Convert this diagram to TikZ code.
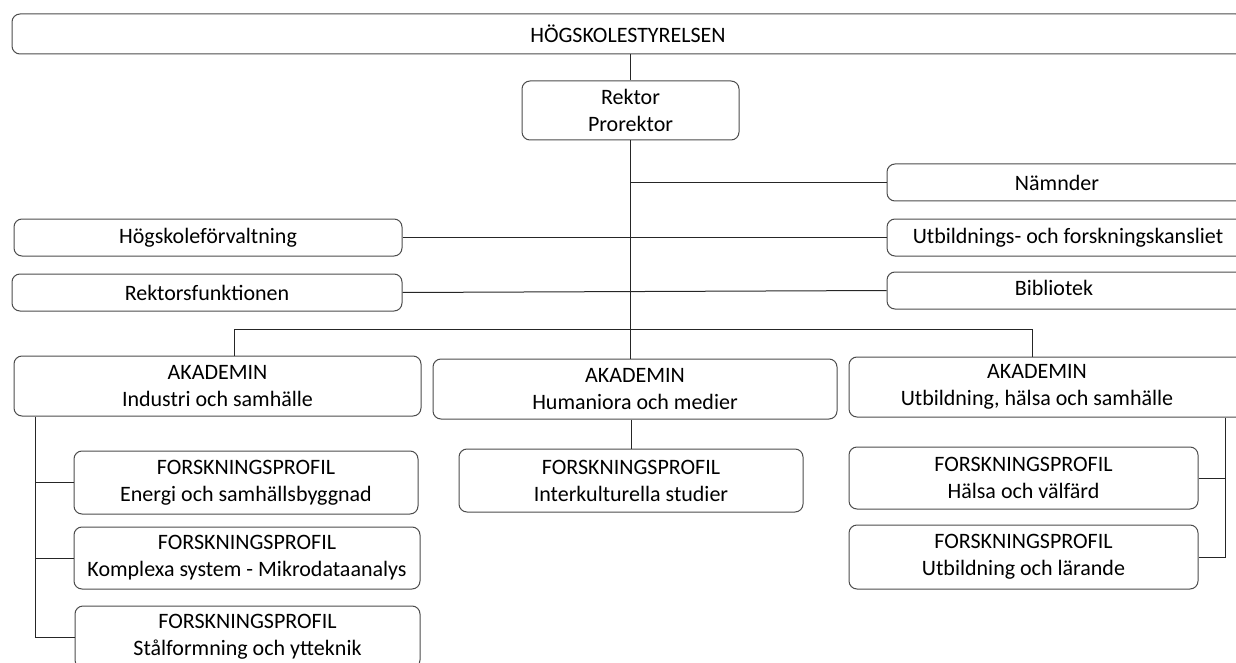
\documentclass[tikz,border=0pt]{standalone}
\usepackage{fontspec}
\setmainfont{Carlito}
\tikzset{
  box/.style={draw=black!70,line width=1pt,rounded corners=8pt,align=center,inner sep=0pt,font=\fontsize{22}{27}\selectfont},
  lbl/.style={align=center,inner sep=0pt,font=\fontsize{22}{27}\selectfont},
  link/.style={draw=black!85,line width=1pt}
}
\begin{document}
\begin{tikzpicture}[x=1pt,y=-1pt]
\useasboundingbox (0,0) rectangle (1236,663);
\clip (0,0) rectangle (1236,663);

\node[box,minimum width=1232pt,minimum height=40pt] (styrelsen) at (628,34) {HÖGSKOLESTYRELSEN};
\node[box,minimum width=217pt,minimum height=59pt] (rektor) at (630.5,110.5) {Rektor\\Prorektor};

\node[box,minimum width=373pt,minimum height=37pt,label={[lbl,xshift=-16.5pt]center:Nämnder}] (namnder) at (1073.5,182.5) {};
\node[box,minimum width=373pt,minimum height=37pt,label={[lbl,xshift=-5.5pt]center:Utbildnings- och forskningskansliet}] (kansli) at (1073.5,237.5) {};
\node[box,minimum width=373pt,minimum height=37pt,label={[lbl,xshift=-19.5pt,yshift=2.5pt]center:Bibliotek}] (bibliotek) at (1073.5,290.5) {};
\node[box,minimum width=388pt,minimum height=37pt] (forvaltning) at (208,237.5) {Högskoleförvaltning};
\node[box,minimum width=390pt,minimum height=37pt] (rfunktion) at (207,292.5) {Rektorsfunktionen};

\node[box,minimum width=407pt,minimum height=60pt] (akis) at (217.5,386) {AKADEMIN\\Industri och samhälle};
\node[box,minimum width=404pt,minimum height=60pt] (akhm) at (635,389) {AKADEMIN\\Humaniora och medier};
\node[box,minimum width=411pt,minimum height=60pt,label={[lbl,xshift=-17.5pt]center:{AKADEMIN\\Utbildning, hälsa och samhälle}}] (akuhs) at (1054.5,387) {};

\node[box,minimum width=344pt,minimum height=63pt] (fpenergi) at (246,482.5) {FORSKNINGSPROFIL\\Energi och samhällsbyggnad};
\node[box,minimum width=346pt,minimum height=62pt] (fpkomplex) at (247,558) {FORSKNINGSPROFIL\\Komplexa system - Mikrodataanalys};
\node[box,minimum width=345pt,minimum height=62pt] (fpstal) at (247.5,637) {FORSKNINGSPROFIL\\Stålformning och ytteknik};
\node[box,minimum width=344pt,minimum height=63pt] (fpinter) at (631,480.5) {FORSKNINGSPROFIL\\Interkulturella studier};
\node[box,minimum width=349pt,minimum height=62pt] (fphalsa) at (1023.5,478) {FORSKNINGSPROFIL\\Hälsa och välfärd};
\node[box,minimum width=349pt,minimum height=64pt] (fplarande) at (1023.5,557) {FORSKNINGSPROFIL\\Utbildning och lärande};

\coordinate (busL) at (234.5,329);
\coordinate (busR) at (1032,329);
\coordinate (isline) at (35.7,0);
\coordinate (uhsline) at (1225,0);

\draw[link] (styrelsen.south -| rektor.north) -- (rektor.north);
\draw[link] (rektor.south) -- (rektor.south |- akhm.north);
\draw[link] (rektor.south |- namnder.west) -- (namnder.west);
\draw[link] (forvaltning.east) -- (kansli.west);
\draw[link] (rfunktion.east) -- (bibliotek.west);
\draw[link] (busL |- akis.north) -- (busL) -- (busR) -- (busR |- akuhs.north);
\draw[link] (isline |- akis.south) |- (fpstal.west);
\foreach \n in {fpenergi,fpkomplex} \draw[link] (\n.west) -- (isline |- \n.west);
\draw[link] (akhm.south -| fpinter.north) -- (fpinter.north);
\draw[link] (uhsline |- akuhs.south) |- (fplarande.east);
\draw[link] (fphalsa.east) -- (uhsline |- fphalsa.east);

\end{tikzpicture}
\end{document}
